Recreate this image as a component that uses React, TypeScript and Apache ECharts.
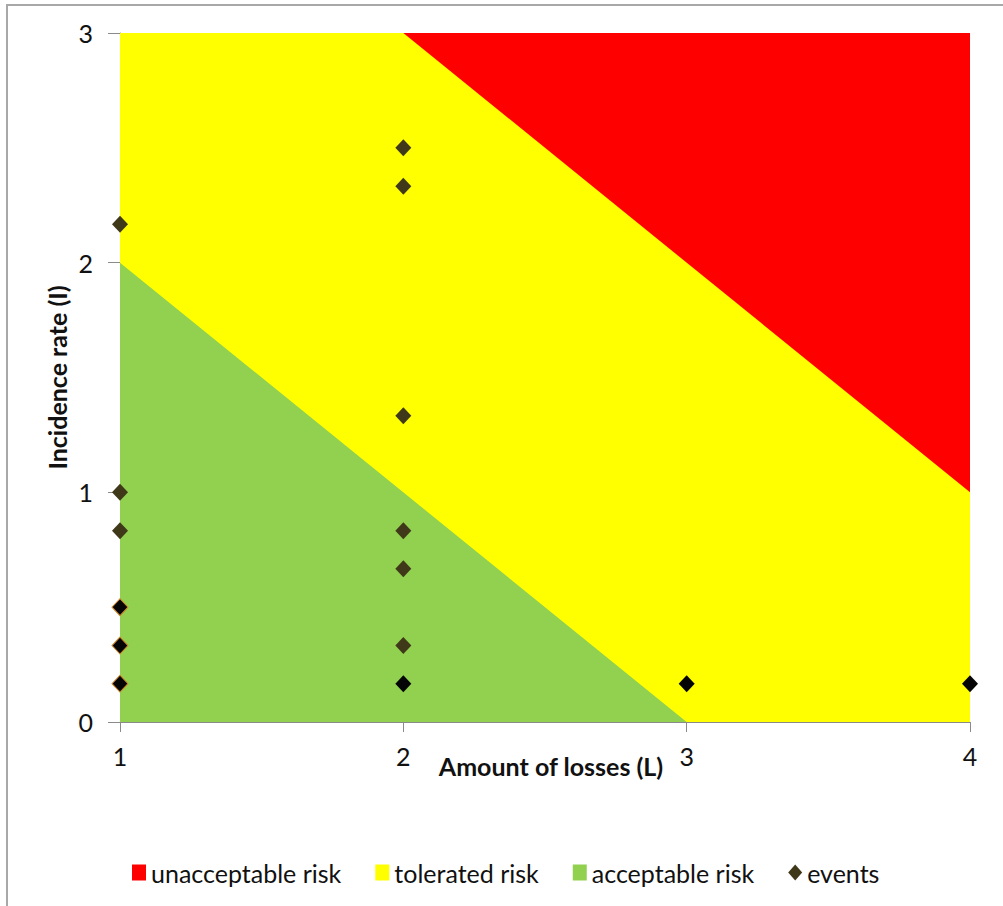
import React, { useEffect, useRef } from "react";
import * as echarts from "echarts";

// Risk zone boundaries: [L, I]
const unacceptableZone: number[][] = [[1, 3], [4, 3]];
const toleratedZone: number[][] = [[1, 3], [2, 3], [4, 1]];
const acceptableZone: number[][] = [[1, 2], [3, 0], [4, 0]];

// Events: amount of losses (L), incidence rate (I), number of overlapping events
const eventL: number[] = [1, 1, 1, 1, 1, 1, 2, 2, 2, 2, 2, 2, 2, 3, 4];
const eventI: number[] = [2.167, 1.0, 0.833, 0.5, 0.333, 0.167, 2.5, 2.333, 1.333, 0.833, 0.667, 0.333, 0.167, 0.167, 0.167];
const eventCount: number[] = [1, 1, 1, 3, 3, 3, 1, 1, 1, 1, 1, 1, 2, 2, 2];

const xTicks: number[] = [1, 2, 3, 4];
const yTicks: number[] = [0, 1, 2, 3];

const FONT = "Lato";
const FS = 25;

export default function App() {
  const ref = useRef<HTMLDivElement>(null);
  useEffect(() => {
    if (!ref.current) return;
    const chart = echarts.init(ref.current, undefined, { renderer: "svg" });
    const events = eventL.map((l, i) => {
      const n = eventCount[i];
      return {
        value: [l, eventI[i]],
        itemStyle:
          n >= 3
            ? { color: "#050505", borderColor: "#d08a2a", borderWidth: 1, opacity: 1 }
            : n === 2
            ? { color: "#050505", opacity: 1 }
            : { color: "#3f3819", opacity: 1 },
      };
    });
    chart.setOption({
      animation: false,
      backgroundColor: "#ffffff",
      textStyle: { fontFamily: FONT },
      graphic: [
        { type: "line", shape: { x1: 7, y1: 5, x2: 7, y2: 906 }, style: { stroke: "#a8a8a8", lineWidth: 2 } },
        { type: "line", shape: { x1: 6, y1: 5, x2: 1003, y2: 5 }, style: { stroke: "#a8a8a8", lineWidth: 2 } },
      ],
      grid: { left: 120, top: 33, right: 33, bottom: 184, containLabel: false },
      legend: {
        left: 127,
        top: 855,
        itemWidth: 14,
        itemHeight: 16,
        itemGap: 34,
        textStyle: { fontFamily: FONT, fontSize: FS, color: "#111" },
        data: [
          { name: "unacceptable risk", icon: "rect" },
          { name: "tolerated risk", icon: "rect" },
          { name: "acceptable risk", icon: "rect" },
          { name: "events", icon: "diamond", itemStyle: { color: "#3f3819", opacity: 1 } },
        ],
      },
      xAxis: {
        type: "value",
        min: 1,
        max: 4,
        interval: 1,
        name: "Amount of losses (L)",
        nameLocation: "middle",
        nameGap: 31,
        nameMoveOverlap: false,
        nameTextStyle: { fontFamily: FONT, fontSize: FS, fontWeight: "bold", color: "#111", padding: [0, 0, 0, 12] },
        axisLine: { show: true, onZero: false, lineStyle: { color: "#8a8a8a", width: 1 } },
        axisTick: { show: true, length: 10, lineStyle: { color: "#8a8a8a" } },
        axisLabel: {
          fontFamily: FONT,
          fontSize: FS,
          color: "#111",
          margin: 21,
          formatter: (v: number) => (xTicks.includes(v) ? String(v) : ""),
        },
        splitLine: { show: false },
      },
      yAxis: {
        type: "value",
        min: 0,
        max: 3,
        interval: 1,
        name: "Incidence rate (I)",
        nameLocation: "middle",
        nameGap: 51,
        nameMoveOverlap: false,
        nameTextStyle: { fontFamily: FONT, fontSize: FS, fontWeight: "bold", color: "#111" },
        axisLine: { show: true, lineStyle: { color: "#8a8a8a", width: 1 } },
        axisTick: { show: true, length: 12, lineStyle: { color: "#8a8a8a" } },
        axisLabel: {
          fontFamily: FONT,
          fontSize: FS,
          color: "#111",
          margin: 27,
          formatter: (v: number) => (yTicks.includes(v) ? String(v) : ""),
        },
        splitLine: { show: false },
      },
      series: [
        {
          name: "unacceptable risk",
          type: "line",
          data: unacceptableZone,
          showSymbol: false,
          lineStyle: { width: 0 },
          itemStyle: { color: "#ff0000" },
          areaStyle: { color: "#ff0000", opacity: 1 },
          silent: true,
        },
        {
          name: "tolerated risk",
          type: "line",
          data: toleratedZone,
          showSymbol: false,
          lineStyle: { width: 0 },
          itemStyle: { color: "#ffff00" },
          areaStyle: { color: "#ffff00", opacity: 1 },
          silent: true,
        },
        {
          name: "acceptable risk",
          type: "line",
          data: acceptableZone,
          showSymbol: false,
          lineStyle: { width: 0 },
          itemStyle: { color: "#92d050" },
          areaStyle: { color: "#92d050", opacity: 1 },
          silent: true,
        },
        {
          name: "events",
          type: "scatter",
          symbol: "diamond",
          symbolSize: [16, 17],
          itemStyle: { color: "#3f3819", opacity: 1 },
          data: events,
          z: 5,
        },
      ],
    });
    return () => chart.dispose();
  }, []);
  return (
    <div
      ref={ref}
      style={{ position: "fixed", left: 0, top: 0, width: 1003, height: 906 }}
    />
  );
}
